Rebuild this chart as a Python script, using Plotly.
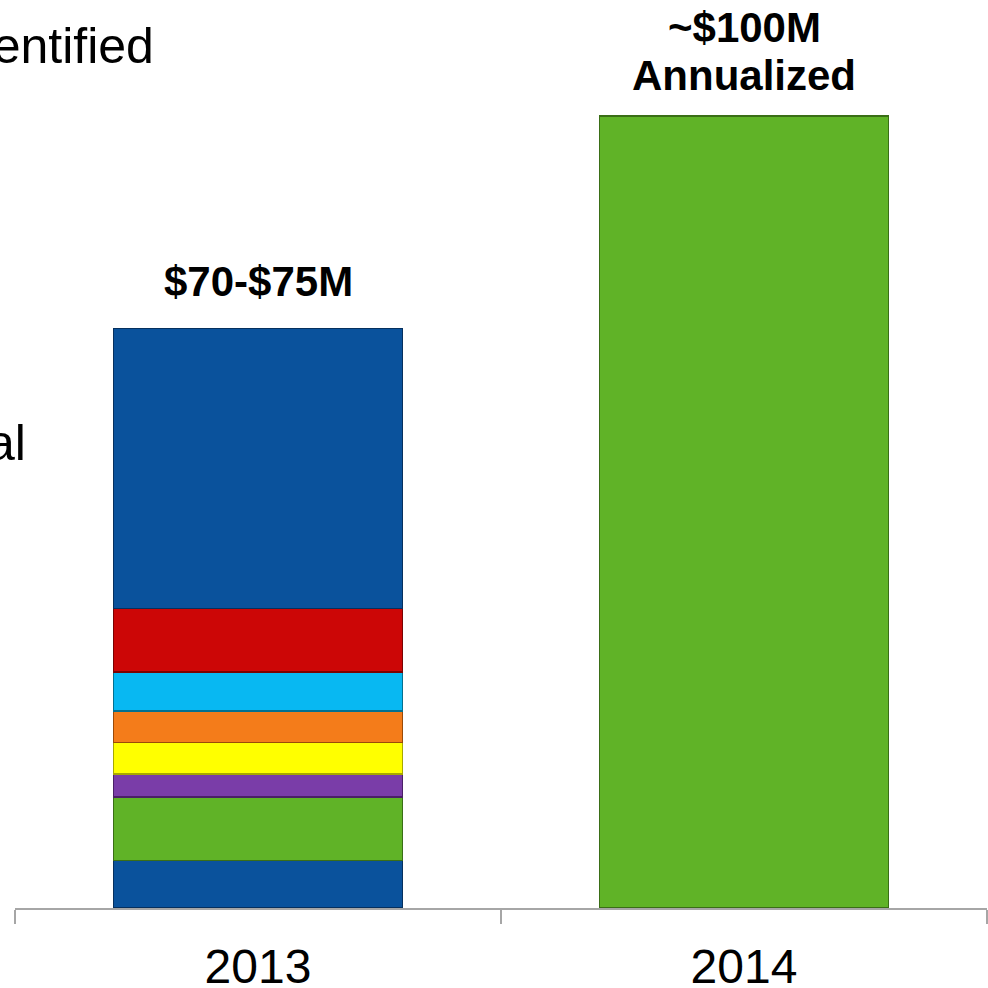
import plotly.graph_objects as go

categories = ["2013", "2014"]
seg_names = ["Blue base", "Green", "Purple", "Yellow", "Orange", "Cyan", "Red", "Blue top"]
seg_values_2013 = [6, 8, 2.9, 4, 4, 4.9, 8, 35.4]
seg_colors = ["#0A529C", "#60B327", "#7A3DA8", "#FFFF00", "#F47C1A", "#08B8F2", "#CC0606", "#0A529C"]
seg_lines = ["#06305E", "#3A6E16", "#4A2066", "#A8A800", "#9A4A08", "#04708F", "#7A0202", "#06305E"]
value_2014 = 100
color_2014 = "#60B327"
labels = [["$70-$75M"], ["~$100M", "Annualized"]]
label_pos = [73.2, 100]

fig = go.Figure()
for name, v, c, lc in zip(seg_names, seg_values_2013, seg_colors, seg_lines):
    fig.add_trace(go.Bar(x=[categories[0]], y=[v], name=name,
                         marker=dict(color=c, line=dict(color=lc, width=1.5))))
fig.add_trace(go.Bar(x=[categories[1]], y=[value_2014], name="2014",
                     marker=dict(color=color_2014, line=dict(color="#3A6E16", width=1.5))))

base_shift = [21, 15]
for i, (lines, yv) in enumerate(zip(labels, label_pos)):
    for j, txt in enumerate(reversed(lines)):
        fig.add_annotation(x=i, y=yv, text="<b>" + txt + "</b>", showarrow=False,
                           yanchor="bottom", yshift=base_shift[i] + 48 * j,
                           font=dict(family="Arial, Liberation Sans", size=42, color="black"))

# partially visible slide text cut off at the left edge
fig.add_annotation(xref="paper", yref="paper", x=0, xshift=141, y=1, yshift=-46,
                   text="Identified", showarrow=False, xanchor="right", yanchor="middle",
                   font=dict(family="Arial, Liberation Sans", size=50, color="black"))
fig.add_annotation(xref="paper", yref="paper", x=0, xshift=13, y=1, yshift=-443,
                   text="al", showarrow=False, xanchor="right", yanchor="middle",
                   font=dict(family="Arial, Liberation Sans", size=50, color="black"))

fig.update_layout(
    width=988, height=988,
    margin=dict(l=15, r=1, t=0, b=80, autoexpand=False),
    barmode="stack", bargap=0.405,
    showlegend=False,
    plot_bgcolor="white", paper_bgcolor="white",
    xaxis=dict(type="category", range=[-0.5, 1.5], tickson="boundaries", ticks="outside", ticklen=14,
               tickcolor="#A6A6A6", tickwidth=2, showline=True, linecolor="#A6A6A6",
               linewidth=2, showgrid=False, tickangle=0, ticklabelstandoff=15, automargin=False,
               tickfont=dict(family="Arial, Liberation Sans", size=48, color="black")),
    yaxis=dict(range=[0, 114.65], visible=False, showgrid=False, automargin=False),
)

fig.write_html("out.html", config={"displayModeBar": False},
               post_script="document.body.style.margin='0px';")
